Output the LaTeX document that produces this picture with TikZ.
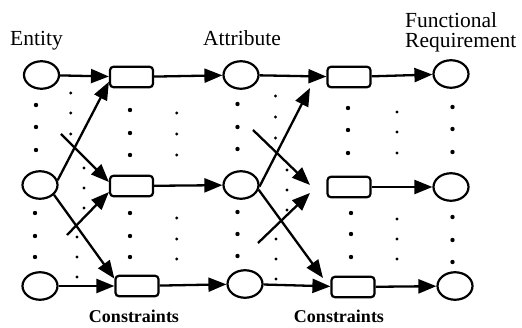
\documentclass[tikz,border=0pt]{standalone}
\usepackage{fontspec}
\setmainfont{Liberation Serif}
\usetikzlibrary{shapes.geometric,arrows.meta}
\begin{document}
\begin{tikzpicture}[x=1pt,y=-1pt,
  oval/.style={ellipse,draw,line width=2.2pt,minimum width=35pt,minimum height=27.5pt,inner sep=0pt},
  box/.style={rectangle,draw,line width=2.2pt,rounded corners=3.5pt,minimum width=43pt,minimum height=20.5pt,inner sep=0pt},
  flow/.style={line width=2.3pt,-{Triangle[length=18pt,width=14pt]}},
  heading/.style={inner sep=0pt,font=\fontsize{21.5}{24}\selectfont},
  note/.style={inner sep=0pt,anchor=base,font=\fontsize{18}{20}\selectfont\bfseries}]
\useasboundingbox (0,0) rectangle (522,328);

% column headings
\node[heading,anchor=base west] (hEnt) at (10,46) {Entity};
\node[heading,anchor=base west] (hAtt) at (203,46) {Attribute};
\node[heading,anchor=base west] (hFun) at (405,28) {Functional};
\node[heading,anchor=base west] (hReq) at (405,48) {Requirement};

% entities
\node[oval] (E1) at (41.5,75) {};
\node[oval] (E2) at (40,185) {};
\node[oval] (E3) at (40,286) {};
% first constraint boxes
\node[box] (R1a) at (131.5,77) {};
\node[box] (R1b) at (131.5,186) {};
\node[box] (R1c) at (137,286) {};
% attributes
\node[oval] (A1) at (241,75) {};
\node[oval] (A2) at (241,185) {};
\node[oval] (A3) at (245,284) {};
% second constraint boxes
\node[box] (R2a) at (349,77) {};
\node[box] (R2b) at (349,187) {};
\node[box] (R2c) at (353,287) {};
% functional requirements
\node[oval] (F1) at (451,74) {};
\node[oval] (F2) at (451,187) {};
\node[oval] (F3) at (455,286) {};

\node[note] (c1) at (134,323) {Constraints};
\node[note] (c2) at (339,323) {Constraints};

% horizontal flows
\draw[flow] (E1) -- (R1a);
\draw[flow] (R1a) -- (A1);
\draw[flow] (A1) -- (R2a);
\draw[flow] (R2a) -- (F1);
\draw[flow] (R1b) -- (A2);
\draw[flow] (R2b) -- (F2);
\draw[flow] (E3) -- (R1c);
\draw[flow] (R1c) -- (A3);
\draw[flow] (A3) -- (R2c);
\draw[flow] (R2c) -- (F3);

% loose ends of the crossing flows
\coordinate (bL) at (61,134);
\coordinate (dL) at (67,235);
\coordinate (fL) at (253,130);
\coordinate (hL) at (258,243);
\coordinate (eT) at (310,88);
\coordinate (fT) at (310,185);
\coordinate (gT) at (323,278);
\coordinate (hT) at (310,193);

% crossing flows, left stage
\draw[flow] (E2.15) -- (R1a.192);
\draw[flow] (bL) -- (R1b.170);
\draw[flow] (E2.-35) -- (R1c.162);
\draw[flow] (dL) -- (R1b.195);
% crossing flows, right stage
\draw[flow] (A2.-5) -- (eT);
\draw[flow] (fL) -- (fT);
\draw[flow] (A2.-15) -- (gT);
\draw[flow] (hL) -- (hT);

% large ellipsis dots in the node columns
\foreach \x/\a/\b/\c in {36/105/127/150, 35/213/236/257,
    130/110/133/155, 130/213/236/257,
    237.5/104/127/149, 237.5/212/234/256,
    348/108/130/153, 351/213/234/257,
    452.5/107/129/152, 452.5/217/240/262}
  \foreach \y in {\a,\b,\c} \fill (\x,\y) circle (2.2pt);

% small ellipsis dots between the columns
\foreach \x/\a/\b/\c in {70.7/93/113/134, 84/168/188/208, 77/237/257/277,
    176.7/113/134/155, 176.7/218/239/259,
    275.5/96/117/138, 287/170/190/210, 276/239/259/279,
    397/112/132/153, 397/219/239/259}
  \foreach \y in {\a,\b,\c} \fill (\x,\y) circle (1.6pt);
\end{tikzpicture}
\end{document}
